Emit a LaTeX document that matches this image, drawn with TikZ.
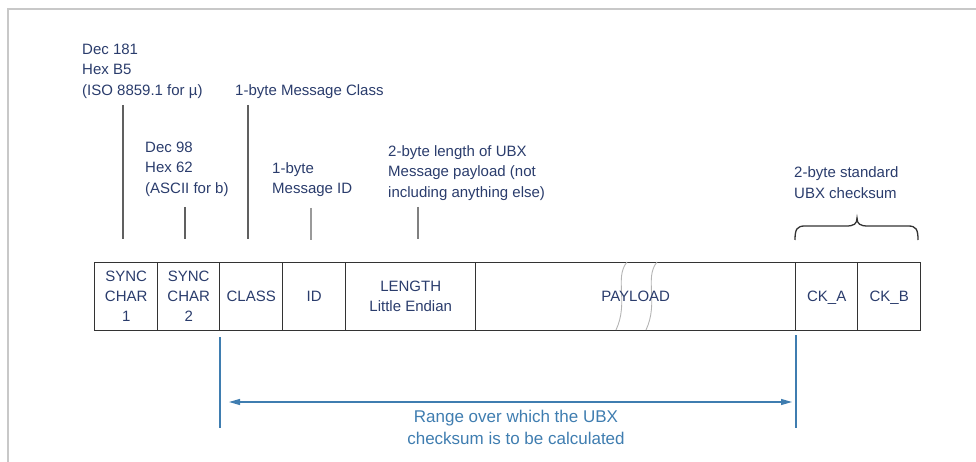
\documentclass[tikz,border=0pt]{standalone}
\usepackage{fontspec}
\setmainfont{Liberation Sans}
\usetikzlibrary{arrows.meta}
\definecolor{navy}{HTML}{2A3C6C}
\definecolor{rangeblue}{HTML}{3F7DB0}
\definecolor{leadergray}{HTML}{606060}
\definecolor{lightleader}{HTML}{9A9A9A}
\definecolor{framegray}{HTML}{C8C8C8}
\definecolor{boxline}{HTML}{333333}
\definecolor{breakgray}{HTML}{B4B4B4}
\begin{document}
\begin{tikzpicture}[x=1pt,y=-1pt,
  lbl/.style={font=\fontsize{15}{20}\selectfont, text=navy, inner sep=0pt, anchor=base west},
  cell/.style={draw=boxline, line width=1.4pt, minimum height=68pt, inner sep=0pt,
    anchor=north west, align=center, font=\fontsize{15}{20}\selectfont, text=navy},
  onecell/.style={cell, text depth=0pt},
  leaderline/.style={draw=leadergray, line width=1.5pt},
  rangeline/.style={draw=rangeblue, line width=1.2pt},
  breakline/.style={draw=breakgray, line width=0.9pt}]
\useasboundingbox (0,0) rectangle (976,462);
% frame
\draw[framegray, line width=2pt] (7.5,462) -- (7.5,9.5) -- (976,9.5);

% cells
\node[cell, minimum width=63pt] (s1) at (94,262) {SYNC\\CHAR\\1};
\node[cell, minimum width=62pt] (s2) at (157,262) {SYNC\\CHAR\\2};
\node[onecell, minimum width=63pt] (cls) at (219,262) {CLASS};
\node[onecell, minimum width=63pt] (id) at (282,262) {ID};
\node[cell, minimum width=130pt] (len) at (345,262) {LENGTH\\Little Endian};
\node[onecell, minimum width=320pt] (pay) at (475,262) {};
\node[onecell, minimum width=62pt] (cka) at (795,262) {CK\_A};
\node[onecell, minimum width=63pt] (ckb) at (857,262) {CK\_B};
% payload break marks
\draw[breakline] (627,262) .. controls (614,278) and (629,302) .. (616,330);
\draw[breakline] (657,262) .. controls (644,278) and (659,302) .. (646,330);
\node[font=\fontsize{15}{20}\selectfont, text=navy, text depth=0pt, inner sep=0pt] (paytext) at (pay.center) {PAYLOAD};

% labels
\node[lbl] (t1a) at (82,54.5) {Dec 181};
\node[lbl] (t1b) at (82,75) {Hex B5};
\node[lbl] (t1c) at (82,95.5) {(ISO 8859.1 for µ)};
\node[lbl] (t3) at (235,95.5) {1-byte Message Class};
\node[lbl] (t2a) at (145,152.5) {Dec 98};
\node[lbl] (t2b) at (145,173) {Hex 62};
\node[lbl] (t2c) at (145,193.5) {(ASCII for b)};
\node[lbl] (t4a) at (272,173.5) {1-byte};
\node[lbl] (t4b) at (272,194) {Message ID};
\node[lbl] (t5a) at (388,156.5) {2-byte length of UBX};
\node[lbl] (t5b) at (388,177) {Message payload (not};
\node[lbl] (t5c) at (388,197.5) {including anything else)};
\node[lbl] (t6a) at (794,178) {2-byte standard};
\node[lbl] (t6b) at (794,198.5) {UBX checksum};

% leader lines
\coordinate (la1) at (123,105); \coordinate (lb1) at (123,239);
\coordinate (la2) at (185,207); \coordinate (lb2) at (185,239);
\coordinate (la3) at (248,105); \coordinate (lb3) at (248,239);
\coordinate (la4) at (311,208); \coordinate (lb4) at (311,240);
\coordinate (la5) at (418,207); \coordinate (lb5) at (418,239);
\draw[leaderline] (la1) -- (lb1);
\draw[leaderline] (la2) -- (lb2);
\draw[leaderline] (la3) -- (lb3);
\draw[leaderline, draw=lightleader] (la4) -- (lb4);
\draw[leaderline, draw=gray] (la5) -- (lb5);

% brace
\draw[draw=boxline, line width=1.3pt]
  (795,240) .. controls (795,229) and (797,226) .. (805,226) -- (846,226)
  .. controls (854,226) and (857,224) .. (857,218)
  .. controls (857,224) and (860,226) .. (868,226) -- (908,226)
  .. controls (916,226) and (918,229) .. (918,240);

% range
\coordinate (rva) at (220,337); \coordinate (rvb) at (220,428);
\coordinate (rwa) at (796,335); \coordinate (rwb) at (796,428);
\draw[rangeline] (rva) -- (rvb);
\draw[rangeline] (rwa) -- (rwb);
\coordinate (ra) at (229,402); \coordinate (rb) at (792,402);
\draw[rangeline, {Triangle[length=11pt,width=6pt]}-{Triangle[length=11pt,width=6pt]}] (ra) -- (rb);
\node[font=\fontsize{17}{22}\selectfont, text=rangeblue, align=center, inner sep=0pt] (rtext) at (516,427)
  {Range over which the UBX\\checksum is to be calculated};
\end{tikzpicture}
\end{document}
